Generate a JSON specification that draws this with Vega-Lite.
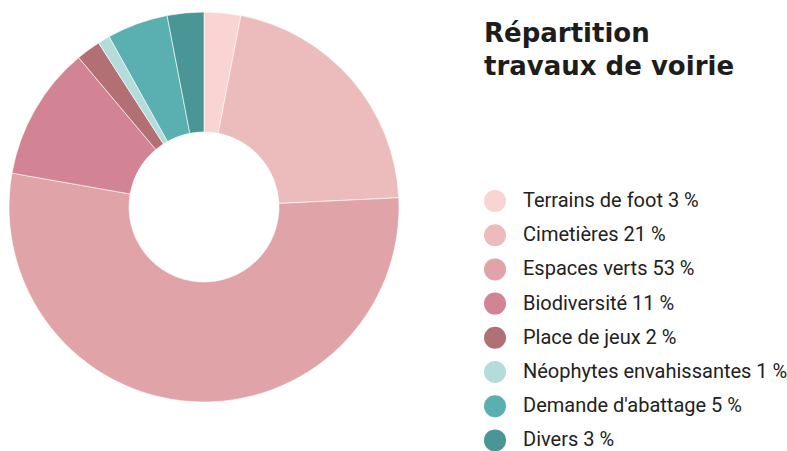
{
  "$schema": "https://vega.github.io/schema/vega-lite/v6.json",
  "width": 408,
  "height": 414,
  "autosize": "none",
  "padding": {"left": 0, "top": 0, "right": 379, "bottom": 37},
  "background": "white",
  "config": {"view": {"stroke": null}},
  "data": {
    "values": [
      {"categorie": "Terrains de foot 3 %", "part": 3, "ordre": 1},
      {"categorie": "Cimetières 21 %", "part": 21, "ordre": 2},
      {"categorie": "Espaces verts 53 %", "part": 53, "ordre": 3},
      {"categorie": "Biodiversité 11 %", "part": 11, "ordre": 4},
      {"categorie": "Place de jeux 2 %", "part": 2, "ordre": 5},
      {"categorie": "Néophytes envahissantes 1 %", "part": 1, "ordre": 6},
      {"categorie": "Demande d'abattage 5 %", "part": 5, "ordre": 7},
      {"categorie": "Divers 3 %", "part": 3, "ordre": 8}
    ]
  },
  "mark": {"type": "arc", "innerRadius": 75, "outerRadius": 195, "stroke": "#ffffff", "strokeWidth": 0.6},
  "encoding": {
    "theta": {"field": "part", "type": "quantitative", "stack": true},
    "order": {"field": "ordre", "type": "quantitative"},
    "color": {
      "field": "categorie",
      "type": "nominal",
      "sort": null,
      "scale": {
        "domain": ["Terrains de foot 3 %", "Cimetières 21 %", "Espaces verts 53 %", "Biodiversité 11 %", "Place de jeux 2 %", "Néophytes envahissantes 1 %", "Demande d'abattage 5 %", "Divers 3 %"],
        "range": ["#f9d4d3", "#ecbbbc", "#e0a4a8", "#d28394", "#b27074", "#b4dcdb", "#5aafb0", "#4a9697"]
      },
      "legend": {
        "orient": "none",
        "legendX": 484,
        "legendY": 21,
        "padding": 0,
        "title": ["Répartition", "travaux de voirie"],
        "titleFont": "DejaVu Sans",
        "titleFontWeight": "bold",
        "titleFontSize": 26,
        "titleLineHeight": 33,
        "titleColor": "#1d1d1b",
        "titlePadding": 110,
        "titleLimit": 400,
        "symbolType": "circle",
        "symbolSize": 484,
        "symbolStrokeWidth": 0,
        "labelFont": "Roboto",
        "labelFontSize": 20,
        "labelColor": "#222222",
        "labelOffset": 17,
        "labelLimit": 400,
        "rowPadding": 12.2
      }
    }
  }
}
